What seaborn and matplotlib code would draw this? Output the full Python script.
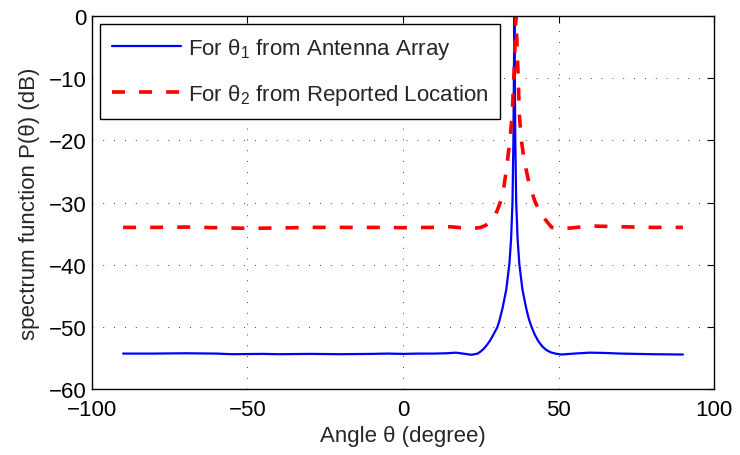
import matplotlib
matplotlib.use("Agg")
import matplotlib.pyplot as plt
import seaborn as sns
import pandas as pd

# ---- data ----
angle_blue = [-90, -80, -70, -60, -55, -45, -40, -30, -20, -10, -5, 0, 5, 10, 14, 17, 20, 22,
              24, 25, 26, 27, 28, 29, 30.3, 31, 32, 33.2, 34.2, 34.75, 35.2, 35.5, 35.8, 36.1, 36.4, 36.85,
              37.4, 38.4, 39.6, 40.5, 41.4, 42.4, 43.5, 44.7, 46, 47.5, 49, 51, 55, 60, 65, 70, 80, 90]
power_blue = [-54.3, -54.3, -54.25, -54.3, -54.4, -54.35, -54.4, -54.35, -54.4, -54.35, -54.3, -54.35,
              -54.3, -54.3, -54.25, -54.15, -54.35, -54.5,
              -54.3, -53.95, -53.5, -52.9, -52.2, -51.3, -50.1, -49.0, -47.0, -44.0, -39.9, -35.9,
              -30.0, -20.0, 0.0, -20.0, -30.0, -35.9,
              -39.9, -44.0, -47.0, -48.8, -50.1, -51.3, -52.3, -53.1, -53.7, -54.1, -54.3, -54.45,
              -54.3, -54.15, -54.2, -54.3, -54.4, -54.45]

angle_red = [-90, -80, -70, -60, -50, -40, -30, -20, -10, 0, 10, 15, 20, 23.7,
             25, 26.5, 27.8, 28.8, 29.7, 30.5, 31.4, 32.2, 33.3, 34.4, 35.1, 35.8, 36.3, 36.9, 37.4, 38.0,
             38.7, 39.5, 40.4, 41.4, 42.4, 43.5, 44.6, 45.7, 46.8, 47.8, 50, 54, 58, 62, 70, 80, 90]
power_red = [-34.0, -34.0, -33.95, -34.05, -34.15, -34.1, -34.0, -34.0, -34.0, -34.05, -34.0, -33.9, -34.1, -34.1,
             -34.0, -33.7, -33.2, -32.7, -32.0, -31.0, -29.8, -28.3, -24.5, -19.8, -15.8, -8.0, 0.0, -8.0,
             -15.8, -19.8, -22.3, -24.5, -26.6, -28.3, -29.8, -31.0, -32.0, -32.7, -33.4, -34.0,
             -34.2, -34.1, -33.9, -33.8, -33.9, -34.0, -34.0]

label_blue = r"For $\mathrm{\theta}_1$ from Antenna Array"
label_red = r"For $\mathrm{\theta}_2$ from Reported Location"
x_ticks = [-100, -50, 0, 50, 100]
y_ticks = [-60, -50, -40, -30, -20, -10, 0]

sns.set_style("white")
plt.rcParams["font.family"] = ["Liberation Sans", "DejaVu Sans"]
plt.rcParams["mathtext.fontset"] = "custom"
plt.rcParams["mathtext.rm"] = "Liberation Sans"
plt.rcParams["mathtext.it"] = "Liberation Sans:italic"
plt.rcParams["axes.unicode_minus"] = True

FS = 16

fig = plt.figure(figsize=(7.4, 4.56), dpi=100)
ax = fig.add_axes([0.1243, 0.1447, 0.8406, 0.818])

df_b = pd.DataFrame({"angle": angle_blue, "power": power_blue})
df_r = pd.DataFrame({"angle": angle_red, "power": power_red})

sns.lineplot(data=df_b, x="angle", y="power", color="#0000ff", linewidth=1.6,
             label=label_blue, ax=ax)
sns.lineplot(data=df_r, x="angle", y="power", color="#ff0000", linewidth=2.6,
             label=label_red, ax=ax)
ax.lines[1].set_dashes([3.6, 3.9])

ax.set_xlim(-100, 100)
ax.set_ylim(-60, 0)
ax.set_xticks(x_ticks)
ax.set_yticks(y_ticks)
ax.tick_params(direction="in", length=5, width=0.8, top=True, right=True,
               labelsize=FS, colors="black")
ax.tick_params(axis="x", pad=7)
ax.tick_params(axis="y", pad=4)
for s in ax.spines.values():
    s.set_color("black")
    s.set_linewidth(1.0)
    s.set_visible(True)

ax.grid(True, color="black", linestyle=(0, (1, 12)), linewidth=0.6)
ax.set_axisbelow(True)

ax.set_xlabel("Angle θ (degree)", fontsize=FS, labelpad=4)
ax.set_ylabel("spectrum function P(θ) (dB)", fontsize=FS, labelpad=6)

leg = ax.legend(loc="upper left", fontsize=FS, frameon=True, fancybox=False,
                edgecolor="black", framealpha=1, handlelength=3.1, handletextpad=0.3,
                labelspacing=0.95, borderpad=0.55, borderaxespad=0.35)
leg.get_frame().set_linewidth(1.0)

fig.savefig("out.png", dpi=100)
